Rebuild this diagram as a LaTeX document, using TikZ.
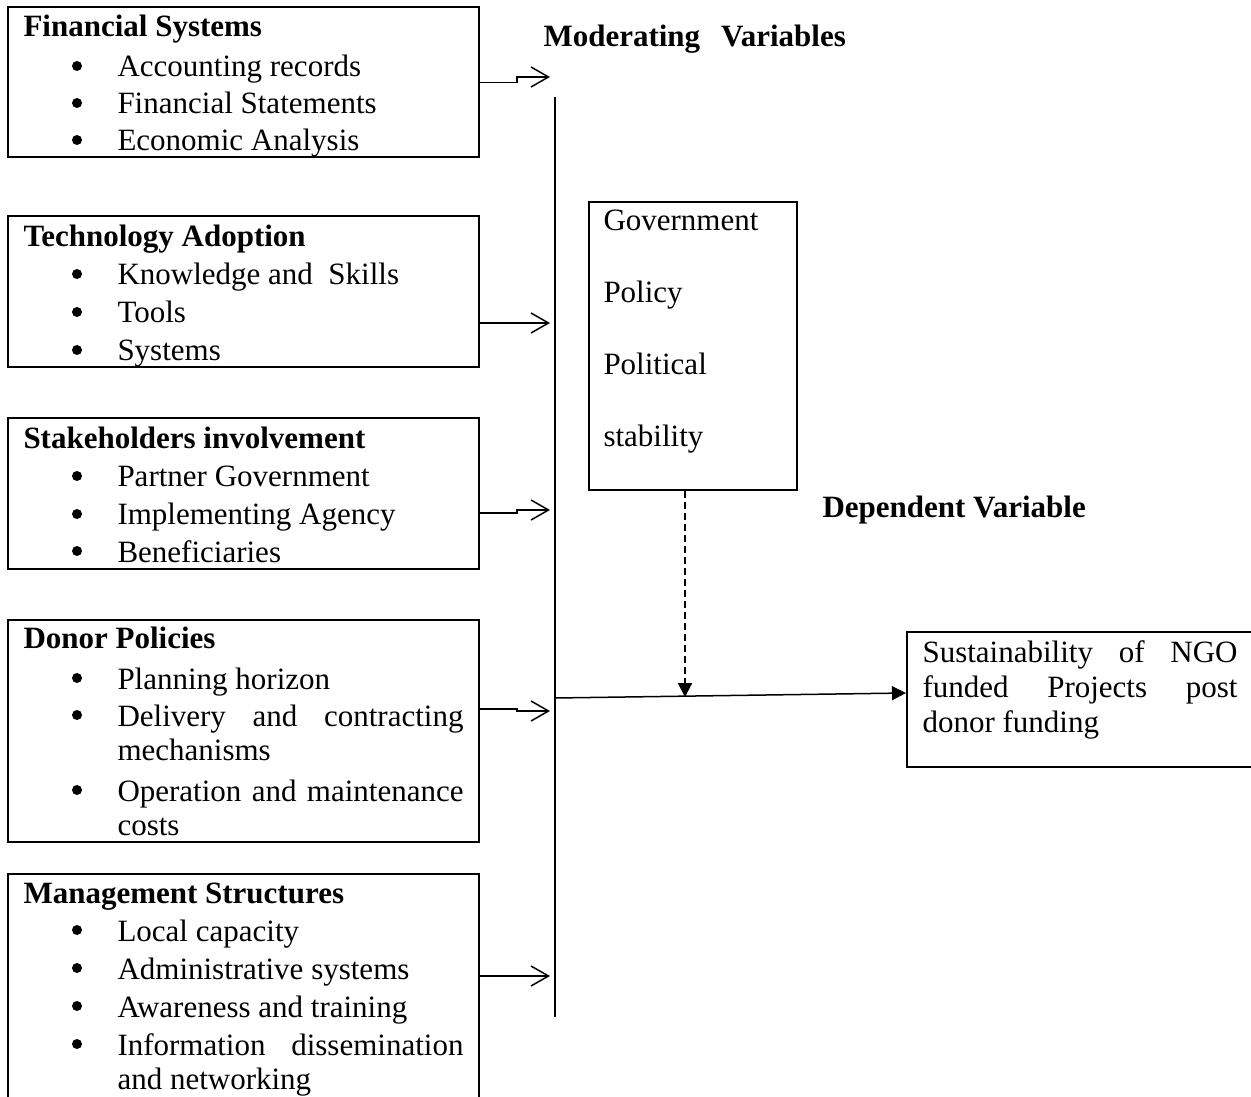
\documentclass[tikz,border=0pt]{standalone}
\usepackage{fontspec}
\setmainfont{Liberation Serif}
\usetikzlibrary{arrows.meta}
\tikzset{
  box/.style={draw, line width=0.8pt, inner sep=0pt},
  lbox/.style={box, minimum width=188.4pt},
  txt/.style={anchor=base west, inner sep=0pt, font=\fontsize{12.4pt}{15pt}\selectfont},
  ttl/.style={anchor=base west, inner sep=0pt, font=\fontsize{12.4pt}{15pt}\selectfont\bfseries},
  bul/.style={circle, fill, draw=none, inner sep=0pt, minimum size=4pt},
  arr/.style={line width=0.6pt, -{Straight Barb[length=7pt,width=8pt]}},
  farr/.style={line width=0.6pt, -{Triangle[length=5.6pt,width=5.6pt]}},
}
\newcommand{\jline}[1]{\hbox to 138.4pt{#1}}
\begin{document}
\begin{tikzpicture}[x=0.4pt,y=-0.4pt]
\useasboundingbox (0,0) rectangle (1251,1097);
\clip (0,0) rectangle (1251,1097);

% ---------- left boxes ----------
\node[lbox, minimum height=60pt]   (fin)  at (243.5,82.5) {};
\node[lbox, minimum height=60.4pt] (tech) at (243.5,291.5) {};
\node[lbox, minimum height=60.4pt] (stak) at (243.5,493.5) {};
\node[lbox, minimum height=88.8pt] (don)  at (243.5,731) {};
\node[lbox, minimum height=94.4pt] (man)  at (243.5,992) {};

% Financial Systems
\node[ttl] (finT) at (23,37) {Financial Systems};
\node[bul] (finb1) at (77,66) {};  \node[txt] (fin1) at (117,77) {Accounting records};
\node[bul] (finb2) at (77,103) {}; \node[txt] (fin2) at (117,114) {Financial Statements};
\node[bul] (finb3) at (77,140) {}; \node[txt] (fin3) at (117,151) {Economic Analysis};

% Technology Adoption
\node[ttl] (techT) at (23,247) {Technology Adoption};
\node[bul] (techb1) at (77,274) {}; \node[txt] (tech1) at (117,285) {Knowledge and\hspace{0.5em}Skills};
\node[bul] (techb2) at (77,312) {}; \node[txt] (tech2) at (117,323) {Tools};
\node[bul] (techb3) at (77,350) {}; \node[txt] (tech3) at (117,361) {Systems};

% Stakeholders involvement
\node[ttl] (stakT) at (23,449) {Stakeholders involvement};
\node[bul] (stakb1) at (77,476) {}; \node[txt] (stak1) at (117,487) {Partner Government};
\node[bul] (stakb2) at (77,514) {}; \node[txt] (stak2) at (117,525) {Implementing Agency};
\node[bul] (stakb3) at (77,551) {}; \node[txt] (stak3) at (117,562) {Beneficiaries};

% Donor Policies
\node[ttl] (donT) at (23,648) {Donor Policies};
\node[bul] (donb1) at (77,678) {}; \node[txt] (don1) at (117,689) {Planning horizon};
\node[bul] (donb2) at (77,715) {}; \node[txt] (don2) at (117,726) {\jline{Delivery\hfill and\hfill contracting}};
\node[txt] (don2b) at (117,760) {mechanisms};
\node[bul] (donb3) at (77,790) {}; \node[txt] (don3) at (117,801) {\jline{Operation\hfill and\hfill maintenance}};
\node[txt] (don3b) at (117,835) {costs};

% Management Structures
\node[ttl] (manT) at (23,903) {Management Structures};
\node[bul] (manb1) at (77,930) {};  \node[txt] (man1) at (117,941) {Local capacity};
\node[bul] (manb2) at (77,968) {};  \node[txt] (man2) at (117,979) {Administrative systems};
\node[bul] (manb3) at (77,1006) {}; \node[txt] (man3) at (117,1017) {Awareness and training};
\node[bul] (manb4) at (77,1044) {}; \node[txt] (man4) at (117,1055) {\jline{Information\hfill dissemination}};
\node[txt] (man4b) at (117,1089) {and networking};

% ---------- headings ----------
\node[ttl] (modT) at (543,47) {Moderating\hspace{8.4pt}Variables};
\node[ttl] (depT) at (822,518) {Dependent Variable};

% ---------- moderating box ----------
\node[box, minimum width=83.2pt, minimum height=115.2pt] (gov) at (693,346) {};
\node[txt] (gov1) at (603,231) {Government};
\node[txt] (gov2) at (603,303) {Policy};
\node[txt] (gov3) at (603,375) {Political};
\node[txt] (gov4) at (603,447) {stability};

% ---------- dependent box ----------
\node[box, minimum width=141.2pt, minimum height=54pt] (dep) at (1083.5,699.5) {};
\node[txt] (dep1) at (922,662) {\hbox to 126pt{Sustainability\hfill of\hfill NGO}};
\node[txt] (dep2) at (922,697) {\hbox to 126pt{funded\hfill Projects\hfill post}};
\node[txt] (dep3) at (922,732) {donor funding};

% ---------- vertical bar ----------
\coordinate (vt) at (555,97);
\coordinate (vb) at (555,1017);
\draw[line width=0.7pt] (vt) -- (vb);

% ---------- arrows into the bar ----------
\coordinate (t1) at (550,77);
\coordinate (t2) at (550,323);
\coordinate (t3) at (550,510);
\coordinate (t4) at (550,711);
\coordinate (t5) at (550,976);
\coordinate (s2) at (479,323);
\coordinate (s3) at (479,513);
\coordinate (s4) at (479,709);
\coordinate (s5) at (479,976);
\draw[arr] (fin.east) -- ++(37,0) |- (t1);
\draw[arr] (tech.east |- s2) -- (t2);
\draw[arr] (stak.east |- s3) -- ++(37,0) |- (t3);
\draw[arr] (don.east |- s4) -- ++(37,0) |- (t4);
\draw[arr] (man.east |- s5) -- (t5);

% ---------- output arrow ----------
\coordinate (hj) at (555,698);
\draw[farr] (hj) -- ([yshift=2.6pt]dep.west);

% ---------- dashed moderating arrow ----------
\coordinate (dt) at (685,697);
\draw[farr, line width=0.8pt, dash pattern=on 2.8pt off 1.6pt] (gov.south -| dt) -- (dt);
\end{tikzpicture}
\end{document}
